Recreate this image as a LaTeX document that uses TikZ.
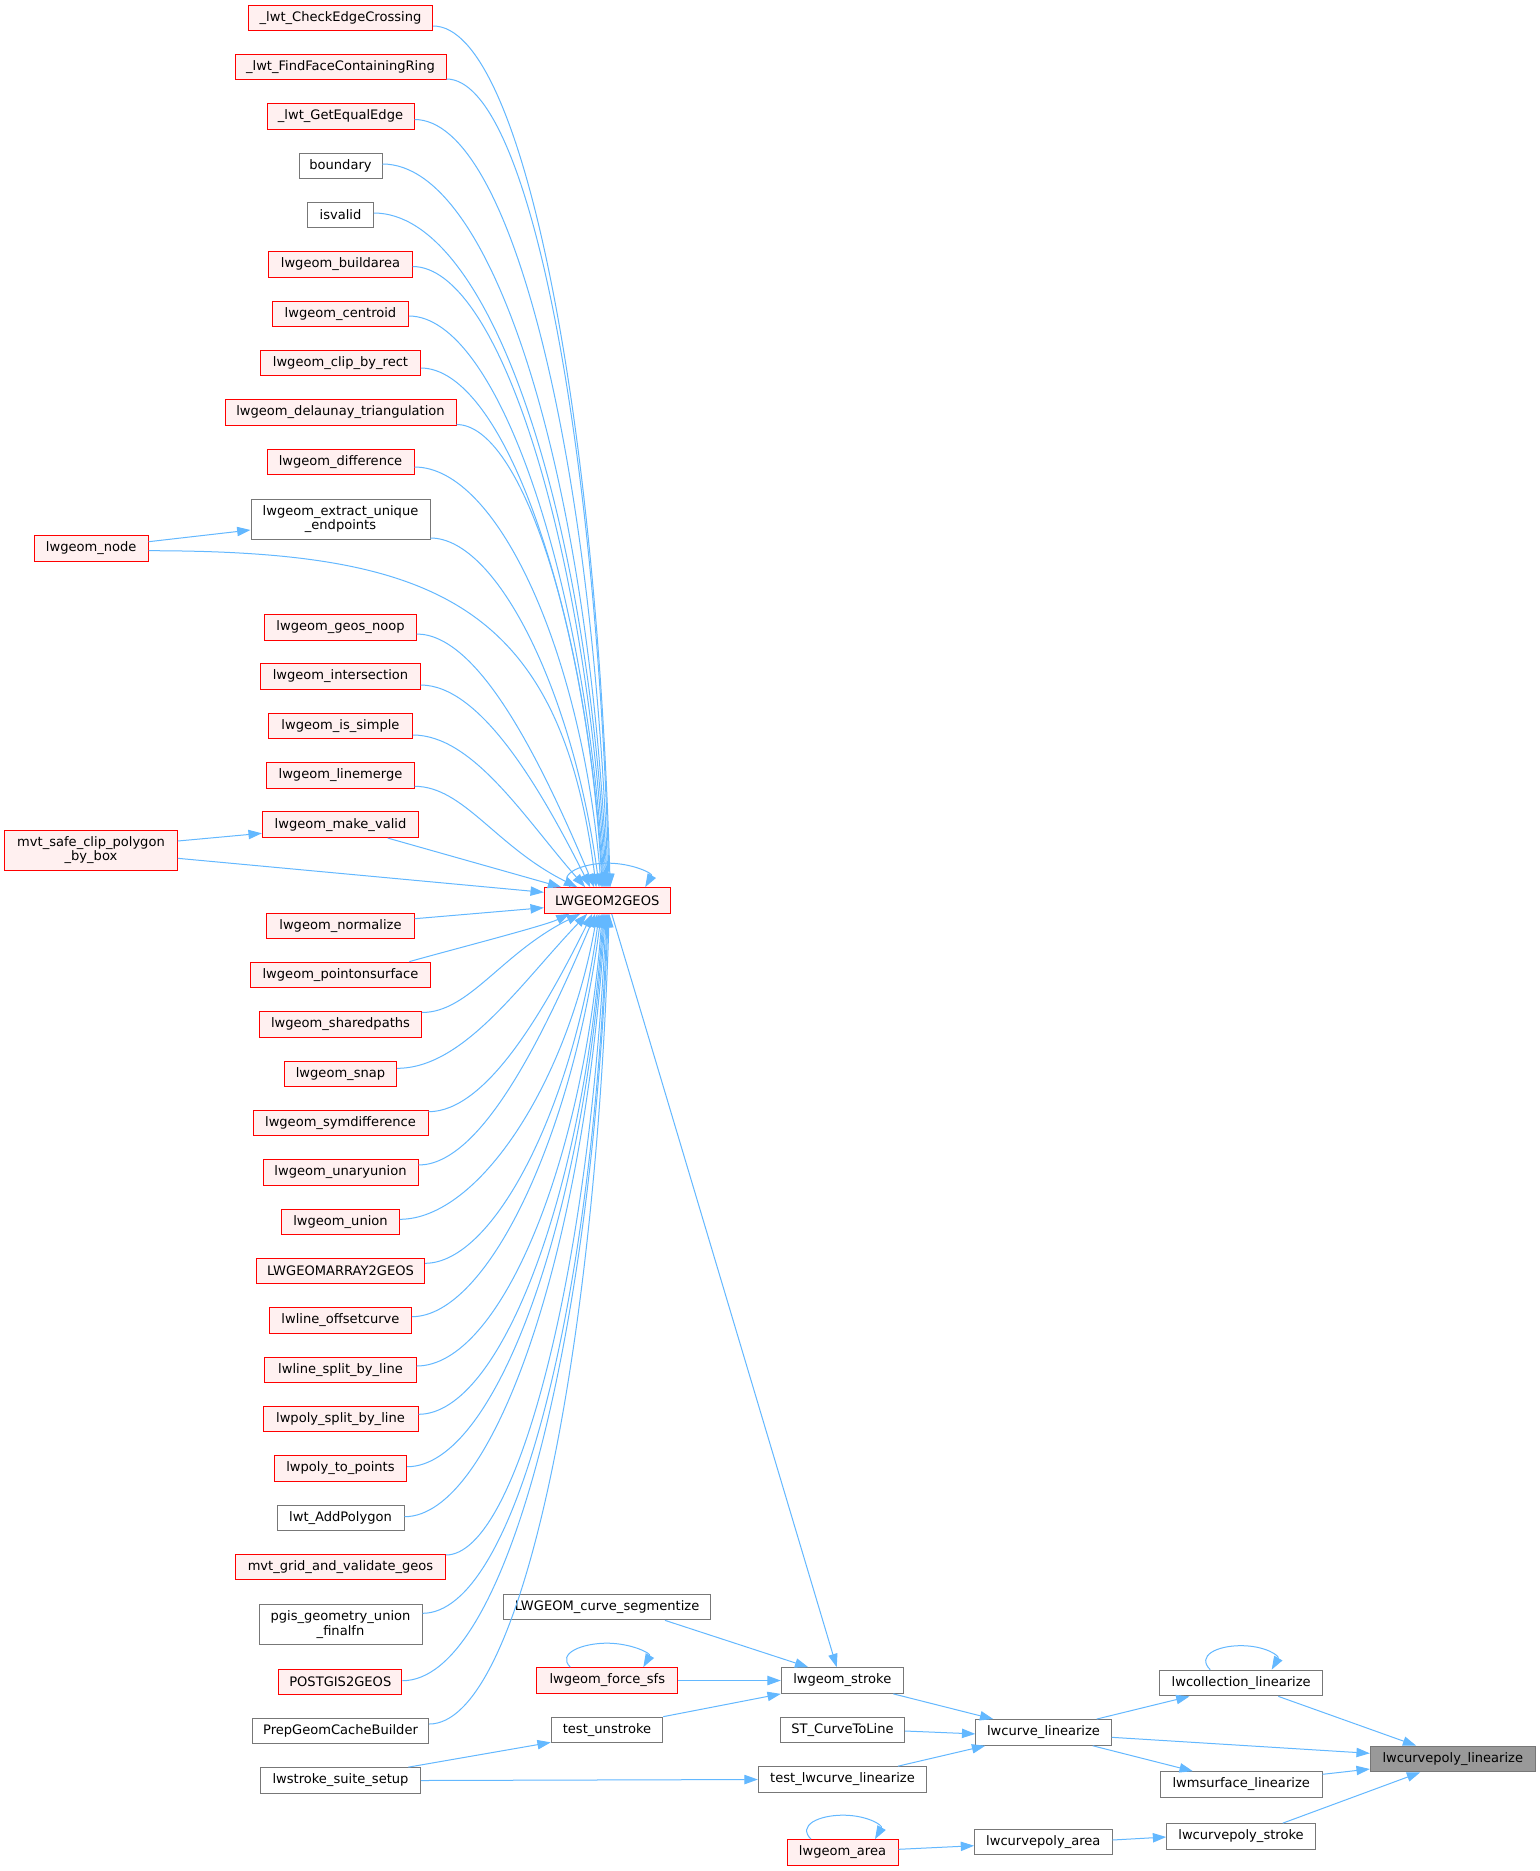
\documentclass[tikz,border=0pt]{standalone}
\usepackage{fontspec}
\setmainfont{DejaVu Sans}
\usetikzlibrary{arrows.meta,calc}
\definecolor{edgeblue}{HTML}{63B8FF}
\definecolor{dxred}{HTML}{FF0000}
\definecolor{dxredfill}{HTML}{FFF0F0}
\definecolor{dxgray}{HTML}{777777}
\definecolor{dxroot}{HTML}{999999}
\tikzset{
 base/.style={rectangle, inner sep=0pt, line width=0.75pt, font=\fontsize{9.8}{10.8}\selectfont, align=center, text=black},
 redbox/.style={base, draw=dxred, fill=dxredfill},
 graybox/.style={base, draw=dxgray, fill=white},
 rootbox/.style={base, draw=dxgray, fill=dxroot},
 edge/.style={draw=edgeblue, line width=0.75pt, -{Triangle[length=10pt,width=7pt]}},
}
\newcommand\bx[7]{\node[#1, minimum width=#5*0.75pt, minimum height=#6*0.75pt] (#2) at (#3,#4) {#7};}
\newcommand\geo[7]{\draw[edge] let \p1=($(#1.east)+(0,#2)$), \p2=($(L2G.#3)+(#4,0)$) in (\p1) .. controls ({\x1+#5*(\x2-\x1)},\y1) and ({\x2-#6*(\x2-\x1)},{\y2+#7*(\y1-\y2)}) .. (\p2);}
\newcommand\selfloop[3]{\draw[edge] ($(#1.north)+(#2,0)$) .. controls +(-14,-14) and +(-24,0) .. ($(#1.north)+({(#2+#3)/2},-24)$) .. controls +(24,0) and +(8,-14) .. ($(#1.north)+(#3,0)$);}
\begin{document}
\begin{tikzpicture}[x=0.75pt,y=-0.75pt]
\fill[white] (0,0) rectangle (1540,1871);
\useasboundingbox (0,0) rectangle (1540,1871);
% nodes
\bx{redbox}{ckedge}{340.5}{18}{184.4}{25.7}{\_lwt\_CheckEdgeCrossing}
\bx{redbox}{findface}{340.5}{67}{211}{25.7}{\_lwt\_FindFaceContainingRing}
\bx{redbox}{getequal}{340.5}{116.5}{147}{25.7}{\_lwt\_GetEqualEdge}
\bx{graybox}{boundary}{340.5}{166}{83}{25.7}{boundary}
\bx{graybox}{isvalid}{340.5}{215}{65.6}{25.7}{isvalid}
\bx{redbox}{buildarea}{340.5}{264.5}{143.3}{25.7}{lwgeom\_buildarea}
\bx{redbox}{centroid}{340.5}{314}{135.6}{25.7}{lwgeom\_centroid}
\bx{redbox}{clip}{340.5}{363}{159.6}{25.7}{lwgeom\_clip\_by\_rect}
\bx{redbox}{delaunay}{340.5}{412.5}{231}{25.7}{lwgeom\_delaunay\_triangulation}
\bx{redbox}{difference}{340.5}{462}{147}{25.7}{lwgeom\_difference}
\bx{graybox}{extract}{340.5}{519}{179}{40}{lwgeom\_extract\_unique\\\_endpoints}
\bx{redbox}{lwnode}{91.2}{548.3}{113.7}{25.7}{lwgeom\_node}
\bx{redbox}{noop}{340.5}{627.5}{151.3}{25.7}{lwgeom\_geos\_noop}
\bx{redbox}{intersection}{340.5}{676.5}{159.3}{25.7}{lwgeom\_intersection}
\bx{redbox}{issimple}{340.5}{726}{143.6}{25.7}{lwgeom\_is\_simple}
\bx{redbox}{linemerge}{340.5}{775.3}{147.3}{25.7}{lwgeom\_linemerge}
\bx{redbox}{makevalid}{340.5}{824.7}{156.4}{25.7}{lwgeom\_make\_valid}
\bx{redbox}{mvtsafe}{91}{850}{172.6}{40}{mvt\_safe\_clip\_polygon\\\_by\_box}
\bx{redbox}{L2G}{607.2}{900.5}{125.7}{25.7}{LWGEOM2GEOS}
\bx{redbox}{normalize}{340.5}{926}{147.3}{25.7}{lwgeom\_normalize}
\bx{redbox}{pointons}{340.5}{975}{179.3}{25.7}{lwgeom\_pointonsurface}
\bx{redbox}{sharedpaths}{340.5}{1024.5}{161.6}{25.7}{lwgeom\_sharedpaths}
\bx{redbox}{snap}{340.5}{1074}{112.4}{25.7}{lwgeom\_snap}
\bx{redbox}{symdiff}{340.5}{1123}{175}{25.7}{lwgeom\_symdifference}
\bx{redbox}{unary}{340.5}{1172.5}{155}{25.7}{lwgeom\_unaryunion}
\bx{redbox}{union}{340.5}{1222}{117.6}{25.7}{lwgeom\_union}
\bx{redbox}{array}{340.5}{1271}{168}{25.7}{LWGEOMARRAY2GEOS}
\bx{redbox}{offset}{340.5}{1320.5}{141.6}{25.7}{lwline\_offsetcurve}
\bx{redbox}{linesplit}{340.5}{1370}{151.3}{25.7}{lwline\_split\_by\_line}
\bx{redbox}{polysplit}{340.5}{1419}{155}{25.7}{lwpoly\_split\_by\_line}
\bx{redbox}{topoints}{340.5}{1468.5}{132.4}{25.7}{lwpoly\_to\_points}
\bx{graybox}{addpoly}{340.5}{1518}{127}{25.7}{lwt\_AddPolygon}
\bx{redbox}{mvtgrid}{340.5}{1567}{209.6}{25.7}{mvt\_grid\_and\_validate\_geos}
\bx{graybox}{pgis}{340.5}{1624.7}{163}{40}{pgis\_geometry\_union\\\_finalfn}
\bx{redbox}{postgis}{340.3}{1682}{123.3}{25.7}{POSTGIS2GEOS}
\bx{graybox}{prepgeom}{340.5}{1731}{176.4}{25.7}{PrepGeomCacheBuilder}
\bx{graybox}{lwstroke}{340.5}{1780.5}{159.6}{25.7}{lwstroke\_suite\_setup}
\bx{graybox}{curveseg}{607.1}{1607}{207.2}{25.7}{LWGEOM\_curve\_segmentize}
\bx{redbox}{forcesfs}{607.3}{1680.5}{140.7}{25.7}{lwgeom\_force\_sfs}
\bx{graybox}{unstroke}{607}{1730}{111.5}{25.7}{test\_unstroke}
\bx{graybox}{stroke}{842.3}{1680.5}{122}{25.7}{lwgeom\_stroke}
\bx{graybox}{stcurve}{842.5}{1730}{124.4}{25.7}{ST\_CurveToLine}
\bx{graybox}{testlwc}{842.5}{1779.5}{168.4}{25.7}{test\_lwcurve\_linearize}
\bx{redbox}{area}{842.5}{1852.5}{111}{25.7}{lwgeom\_area}
\bx{graybox}{lwcurve}{1043.5}{1732.4}{135.5}{25.7}{lwcurve\_linearize}
\bx{graybox}{cparea}{1043.3}{1842}{137.4}{25.7}{lwcurvepoly\_area}
\bx{graybox}{collection}{1241.2}{1683}{163}{25.7}{lwcollection\_linearize}
\bx{graybox}{msurface}{1241.2}{1784.5}{161.7}{25.7}{lwmsurface\_linearize}
\bx{graybox}{cpstroke}{1241}{1836.5}{148.6}{25.7}{lwcurvepoly\_stroke}
\bx{rootbox}{root}{1452.8}{1759}{165}{25.7}{lwcurvepoly\_linearize}
% edges into LWGEOM2GEOS from above
\geo{ckedge}{8}{north}{3}{0.5}{0.08}{0.56}
\geo{findface}{12}{north}{2}{0.5}{0.08}{0.56}
\geo{getequal}{3}{north}{1}{0.5}{0.08}{0.56}
\geo{boundary}{-2}{north}{0}{0.5}{0.08}{0.56}
\geo{isvalid}{-2}{north}{-1}{0.5}{0.08}{0.56}
\geo{buildarea}{2}{north}{-2}{0.45}{0.1}{0.55}
\geo{centroid}{2}{north}{-3}{0.45}{0.1}{0.55}
\geo{clip}{5}{north}{-4}{0.45}{0.1}{0.55}
\geo{delaunay}{12}{north}{-5}{0.45}{0.1}{0.55}
\geo{difference}{5}{north}{-6}{0.45}{0.1}{0.55}
\geo{extract}{19}{north}{-8}{0.4}{0.15}{0.55}
\geo{noop}{6.5}{north}{-13}{0.35}{0.3}{0.5}
\geo{intersection}{8.5}{north}{-17}{0.35}{0.3}{0.5}
\geo{issimple}{9}{north}{-22}{0.35}{0.35}{0.45}
\geo{linemerge}{11}{north}{-30}{0.3}{0.5}{0.4}
% edges into LWGEOM2GEOS from below
\geo{sharedpaths}{-12}{south}{-27}{0.3}{0.5}{0.4}
\geo{snap}{-5.7}{south}{-20}{0.35}{0.35}{0.45}
\geo{symdiff}{-11.3}{south}{-15}{0.35}{0.3}{0.5}
\geo{unary}{-7.5}{south}{-12}{0.35}{0.3}{0.5}
\geo{union}{-2.7}{south}{-10}{0.4}{0.15}{0.55}
\geo{array}{-7.7}{south}{-8}{0.4}{0.15}{0.55}
\geo{offset}{-3.8}{south}{-6}{0.4}{0.15}{0.55}
\geo{linesplit}{-4}{south}{-5}{0.45}{0.1}{0.55}
\geo{polysplit}{-4.7}{south}{-4}{0.45}{0.1}{0.55}
\geo{topoints}{-1.8}{south}{-3}{0.45}{0.1}{0.55}
\geo{addpoly}{-1.3}{south}{-2}{0.45}{0.1}{0.55}
\geo{mvtgrid}{-12}{south}{-1}{0.45}{0.1}{0.55}
\geo{pgis}{-11.4}{south}{0}{0.5}{0.08}{0.56}
\geo{postgis}{-1.3}{south}{1}{0.5}{0.08}{0.56}
\geo{prepgeom}{-7}{south}{2}{0.5}{0.08}{0.56}
% special edges
\draw[edge] ($(lwnode.east)+(0,-6.6)$) -- ($(extract.west)+(0,11)$);
\draw[edge] ($(lwnode.east)+(0,2.4)$) .. controls (430,551) and (560,600) .. ($(L2G.north)+(-11,0)$);
\draw[edge] ($(mvtsafe.east)+(0,-9)$) -- ($(makevalid.west)+(0,8.6)$);
\draw[edge] ($(mvtsafe.east)+(0,8.3)$) -- ($(L2G.west)+(0,-8.2)$);
\draw[edge] ($(makevalid.south)+(47.2,0)$) -- ($(L2G.north west)+(17.4,0)$);
\draw[edge] ($(normalize.east)+(0,-7.3)$) -- ($(L2G.west)+(0,7.2)$);
\draw[edge] ($(pointons.north)+(68.8,0)$) .. controls +(35,-10) and +(-25,12) .. ($(L2G.south west)+(25.7,0)$);
\selfloop{L2G}{-37}{38}
\draw[edge] ($(L2G.south)+(4.5,0)$) -- ($(stroke.north)+(-5.6,0)$);
\draw[edge] ($(curveseg.south)+(57.9,0)$) -- ($(stroke.north)+(-34,0)$);
\draw[edge] (forcesfs.east) -- (stroke.west);
\selfloop{forcesfs}{-37}{36}
\draw[edge] (unstroke.north east) -- (stroke.south west);
\draw[edge] ($(lwstroke.north)+(67.8,0)$) -- ($(unstroke.south west)+(0,-1)$);
\draw[edge] (lwstroke.east) -- (testlwc.west);
\draw[edge] ($(stroke.south)+(51,0)$) -- ($(lwcurve.north west)+(18,0)$);
\draw[edge] ($(stcurve.east)+(0,1)$) -- ($(lwcurve.west)+(0,1.5)$);
\draw[edge] ($(testlwc.north)+(55.5,0)$) -- ($(lwcurve.south west)+(10,0)$);
\draw[edge] ($(lwcurve.north)+(53.2,0)$) -- ($(collection.south west)+(30.3,0)$);
\selfloop{collection}{-31}{30.5}
\draw[edge] ($(lwcurve.east)+(0,4.9)$) -- ($(root.west)+(0,-5.7)$);
\draw[edge] ($(lwcurve.south)+(49.2,0)$) -- ($(msurface.north west)+(33,0)$);
\draw[edge] ($(collection.south)+(37.1,0)$) -- ($(root.north west)+(46.4,0)$);
\draw[edge] ($(msurface.east)+(0,-10.2)$) -- ($(root.west)+(0,10)$);
\draw[edge] ($(cpstroke.north)+(41.7,0)$) -- ($(root.south west)+(50.4,0)$);
\draw[edge] ($(cparea.east)+(0,-2)$) -- ($(cpstroke.west)+(0,0.5)$);
\draw[edge] ($(area.east)+(0,-3.2)$) -- ($(cparea.west)+(0,3.7)$);
\selfloop{area}{-31.5}{32.5}
\end{tikzpicture}
\end{document}
